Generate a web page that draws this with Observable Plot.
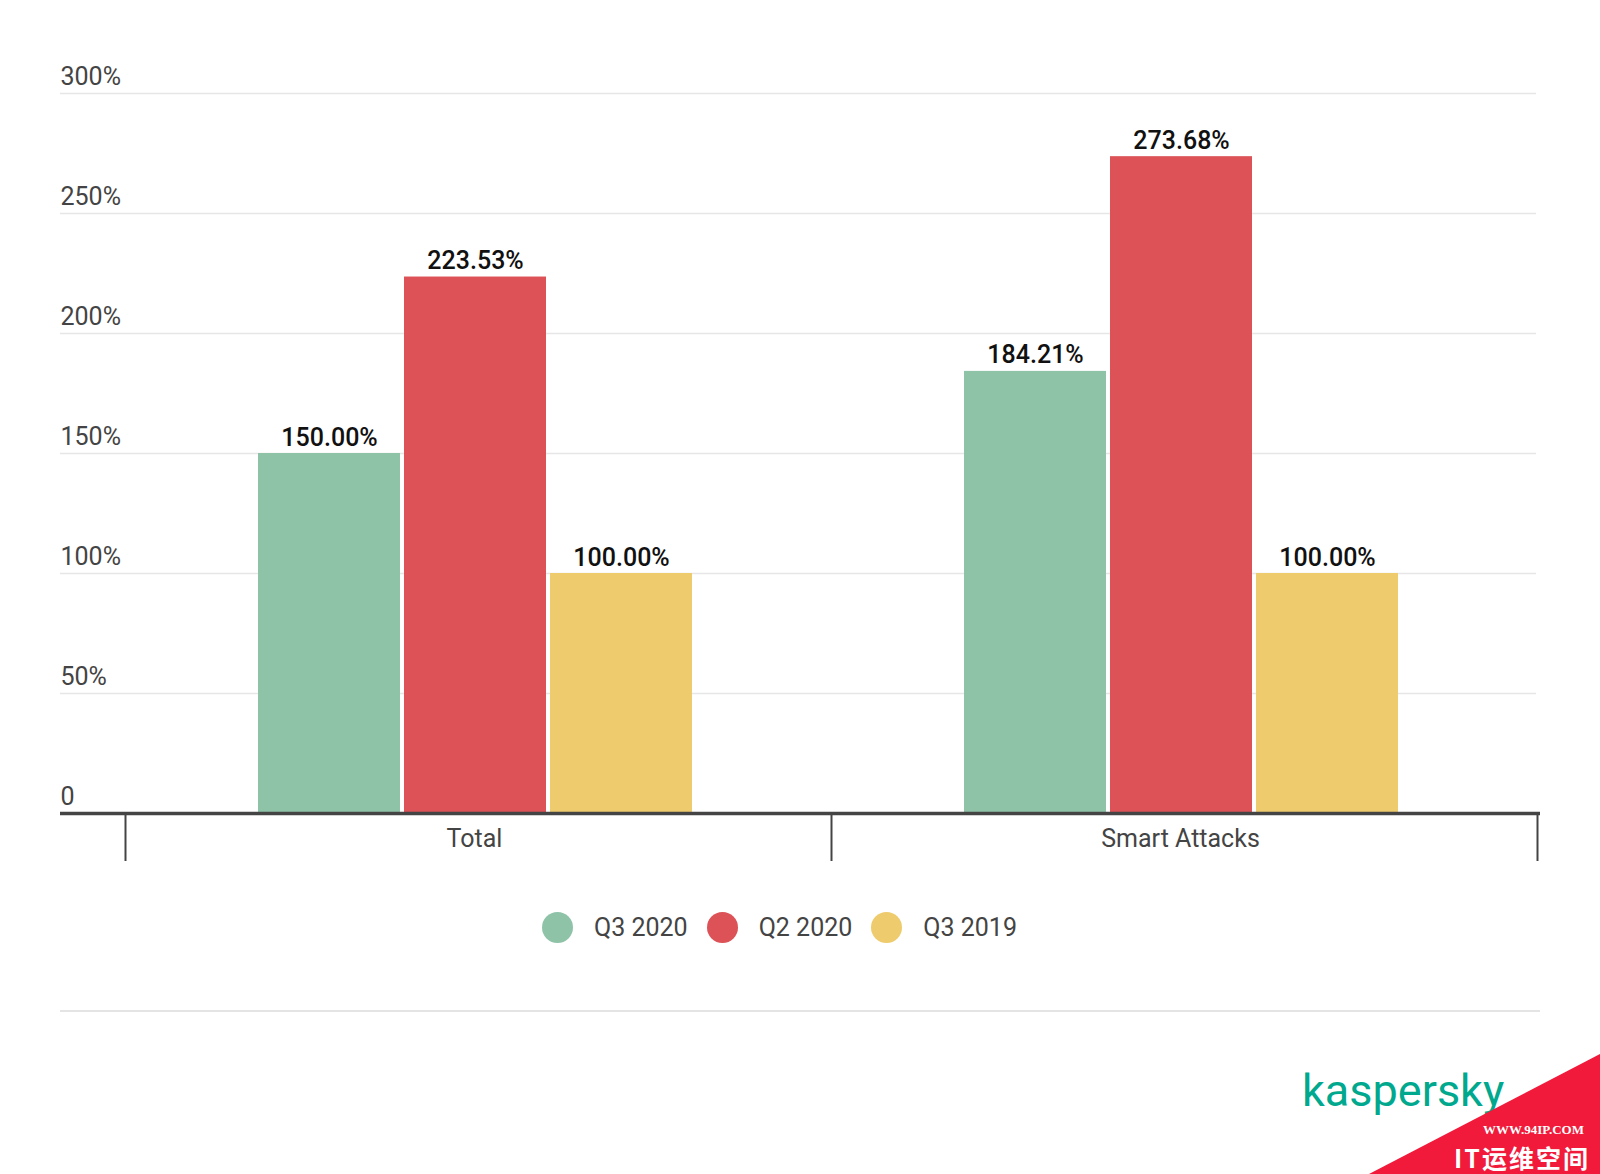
<!DOCTYPE html>
<html>
<head>
<meta charset="utf-8">
<script src="https://cdn.jsdelivr.net/npm/d3@7"></script>
<script src="https://cdn.jsdelivr.net/npm/@observablehq/plot@0.6"></script>
<style>
  html, body { margin: 0; padding: 0; background: #fff; }
  body { width: 1600px; height: 1174px; position: relative; overflow: hidden; font-family: Roboto, "Noto Sans", sans-serif; }
  .layer { position: absolute; left: 0; top: 0; }
  .legend { position: absolute; top: 912px; left: 542px; display: flex; align-items: center; font-size: 25px; color: #444; }
  .legend .sw { width: 31px; height: 31px; border-radius: 50%; margin-right: 21px; }
  .legend .lab { margin-right: 19px; line-height: 31px; }
  .sep { position: absolute; left: 60px; top: 1010px; width: 1480px; height: 2px; background: #e4e4e4; }
  .logo { position: absolute; left: 1302px; top: 1064px; font-size: 45px; line-height: 53px; color: #00a88e; font-family: Roboto, sans-serif; }
</style>
</head>
<body>
<div id="chart"></div>
<div class="legend" id="legend"></div>
<div class="sep"></div>
<div class="logo">kaspersky</div>
<svg class="layer" style="top:0;left:0" width="1600" height="1174">
  <polygon points="1369,1174 1600,1054 1600,1174" fill="#f11a3a"></polygon>
  <text x="1584" y="1134" text-anchor="end" fill="#fff" font-family="'Liberation Serif', serif" font-weight="bold" font-size="13">WWW.94IP.COM</text>
  <text x="1590" y="1168" text-anchor="end" fill="#fff" font-family="'Noto Sans CJK SC', sans-serif" font-weight="bold" font-size="25" letter-spacing="2">IT运维空间</text>
</svg>
<script>
// ---- data ----
const categories = ["Total", "Smart Attacks"];
const series = ["Q3 2020", "Q2 2020", "Q3 2019"];
const totalValues = [150.00, 223.53, 100.00];
const smartAttackValues = [184.21, 273.68, 100.00];
const seriesColors = ["#8fc3a8", "#dc5256", "#eecb6c"];
const yTicks = [0, 50, 100, 150, 200, 250, 300];

const valuesByCategory = [totalValues, smartAttackValues];
const rows = categories.flatMap((c, ci) =>
  series.map((s, si) => ({category: c, series: s, value: valuesByCategory[ci][si]}))
);

// ---- layout ----
const W = 1600, H = 880;
const yRange = [813, 93];
const bandRange = [125, 1537];
const bandW = (bandRange[1] - bandRange[0]) / categories.length;
const font = "Roboto, 'Noto Sans', sans-serif";
const baseStyle = {fontFamily: font, background: "transparent", overflow: "visible"};

// Layer 1: gridlines + y labels
const grid = Plot.plot({
  width: W, height: H,
  marginLeft: 60, marginRight: 64, marginTop: 93, marginBottom: H - 813,
  style: baseStyle,
  x: {type: "linear", domain: [0, categories.length], range: bandRange, axis: null},
  y: {domain: [0, 300], range: yRange, axis: null},
  marks: [
    Plot.ruleY(yTicks.filter(d => d > 0), {stroke: "#e6e6e6", strokeWidth: 1.5}),
    Plot.text(yTicks, {
      y: d => d, text: d => d === 0 ? "0" : d + "%",
      frameAnchor: "left", textAnchor: "start", lineAnchor: "bottom", dy: -9,
      fontSize: 25, fill: "#444"
    })
  ]
});

// Layer 2: bars + value labels (faceted by category)
const mL = bandRange[0];
const bars = Plot.plot({
  width: W, height: H,
  marginLeft: mL, marginRight: W - bandRange[1], marginTop: 93, marginBottom: H - 813,
  style: baseStyle,
  facet: {data: rows, x: "category", marginTop: 0, marginBottom: 0, marginLeft: 0, marginRight: 0},
  fx: {domain: categories, range: bandRange, padding: 0, axis: null},
  x: {domain: series, range: [mL, mL + bandW], paddingInner: 0.027, paddingOuter: 0.915, align: 0.488, axis: null},
  y: {domain: [0, 300], range: yRange, axis: null},
  color: {domain: series, range: seriesColors},
  marks: [
    Plot.barY(rows, {x: "series", y: "value", fill: "series"}),
    Plot.text(rows, {
      x: "series", y: "value", text: d => d.value.toFixed(2) + "%",
      dy: -8, lineAnchor: "bottom", fontSize: 25, fontWeight: 500,
      fontFamily: "'Roboto Medium', Roboto, sans-serif", fill: "#111"
    })
  ]
});

// Layer 3: baseline, category separators, category labels
const axis = Plot.plot({
  width: W, height: H,
  marginLeft: 60, marginRight: 64, marginTop: 93, marginBottom: H - 813,
  style: baseStyle,
  x: {type: "linear", domain: [0, categories.length], range: bandRange, axis: null},
  y: {domain: [0, 300], range: yRange, axis: null},
  marks: [
    Plot.ruleY([0], {stroke: "#444", strokeWidth: 3.5, insetRight: -4}),
    Plot.ruleX(d3.range(categories.length + 1), {x: d => d, y1: 0, y2: 0, insetBottom: -48, stroke: "#444", strokeWidth: 2}),
    Plot.text(categories, {
      x: (d, i) => i + 0.5, y: 0, text: d => d, dy: 33, dx: -4, lineAnchor: "bottom",
      fontSize: 25, fill: "#444"
    })
  ]
});

const chart = document.getElementById("chart");
for (const svg of [grid, bars, axis]) {
  svg.classList.add("layer");
  svg.style.position = "absolute";
  svg.style.left = "0px";
  svg.style.top = "0px";
  chart.appendChild(svg);
}

// Legend
const legend = document.getElementById("legend");
series.forEach((s, i) => {
  const sw = document.createElement("span");
  sw.className = "sw";
  sw.style.background = seriesColors[i];
  const lab = document.createElement("span");
  lab.className = "lab";
  lab.textContent = s;
  legend.appendChild(sw);
  legend.appendChild(lab);
});
</script>
</body>
</html>
